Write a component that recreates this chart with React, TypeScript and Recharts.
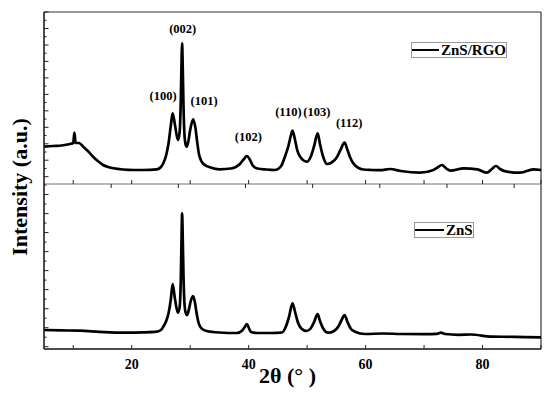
import React from 'react';
import { LineChart, Line, XAxis, YAxis, ReferenceDot, ReferenceLine, Legend } from 'recharts';

const SERIF = '"Liberation Serif", "Times New Roman", Times, serif';

// ZnS/RGO pattern (upper panel): 2θ (deg) and intensity (a.u.)
const rgoAngle = [5.0, 6.5, 8.0, 9.45, 10.0, 10.2, 10.4, 11.0, 11.7, 12.5, 13.4, 14.2, 15.1, 16.0, 16.9, 18.5, 20.3, 22.0, 24.3, 25.0, 25.4, 25.9, 26.3, 26.7, 27.0, 27.4, 27.9, 28.2, 28.4, 28.55, 28.62, 28.7, 28.85, 29.0, 29.2, 29.4, 29.7, 30.0, 30.5, 30.9, 31.2, 31.5, 31.9, 32.5, 33.5, 35.0, 37.0, 38.5, 39.2, 39.7, 40.2, 40.7, 41.5, 43.0, 44.5, 45.5, 46.2, 46.8, 47.2, 47.5, 47.9, 48.3, 48.8, 49.4, 49.95, 50.6, 51.2, 51.8, 52.2, 52.7, 53.4, 54.2, 55.0, 55.7, 56.4, 56.9, 57.4, 57.9, 59.6, 61.0, 62.5, 64.2, 66.0, 69.3, 71.6, 72.3, 73.05, 73.8, 74.5, 76.8, 79.1, 80.75, 81.6, 82.3, 83.0, 84.2, 86.45, 88.7, 90.0];
const rgoIntensity = [373, 380, 385, 400, 410, 513, 410, 410, 373, 330, 273, 230, 190, 170, 157, 145, 140, 140, 147, 170, 207, 290, 407, 590, 707, 590, 440, 520, 850, 1300, 1407, 1250, 800, 520, 400, 373, 430, 540, 647, 560, 420, 300, 230, 190, 165, 147, 155, 200, 250, 280, 245, 185, 155, 145, 140, 175, 273, 380, 480, 533, 450, 340, 273, 235, 223, 270, 380, 507, 400, 280, 200, 215, 260, 340, 413, 340, 260, 207, 145, 140, 138, 150, 130, 113, 140, 165, 190, 155, 133, 157, 147, 113, 150, 180, 150, 123, 113, 147, 140];

// ZnS pattern (lower panel)
const znsAngle = [5.0, 8.0, 11.2, 14.5, 18.6, 22.0, 24.3, 25.0, 25.4, 25.9, 26.3, 26.7, 27.0, 27.4, 27.9, 28.2, 28.4, 28.55, 28.62, 28.7, 28.85, 29.0, 29.2, 29.5, 29.8, 30.1, 30.5, 30.8, 31.1, 31.4, 31.7, 32.2, 32.8, 35.0, 38.0, 38.9, 39.4, 39.7, 40.0, 40.4, 41.5, 44.0, 45.7, 46.3, 46.9, 47.5, 47.9, 48.4, 49.0, 49.9, 50.6, 51.2, 51.8, 52.2, 52.8, 53.6, 54.6, 55.4, 55.9, 56.4, 56.9, 57.5, 58.2, 59.9, 63.0, 66.0, 70.0, 72.2, 72.9, 73.6, 75.9, 78.0, 81.6, 85.5, 90.0];
const znsIntensity = [190, 186, 183, 172, 163, 166, 173, 190, 223, 280, 357, 500, 650, 500, 363, 420, 700, 1200, 1357, 1200, 750, 480, 370, 340, 400, 480, 530, 470, 357, 270, 223, 195, 180, 165, 160, 185, 225, 250, 215, 170, 160, 160, 165, 215, 320, 457, 380, 270, 205, 180, 205, 270, 350, 280, 200, 163, 180, 230, 290, 340, 270, 200, 173, 150, 155, 150, 148, 152, 163, 150, 142, 145, 123, 122, 117];

// peak indexing labels (upper panel)
const peakNames = ['(100)', '(002)', '(101)', '(102)', '(110)', '(103)', '(112)'];
const peakLabelAngle = [25.36, 28.73, 32.38, 39.96, 46.8, 51.66, 57.19];
const peakLabelIntensity = [885, 1557, 835, 478, 728, 728, 612];

const angleTicks = [10, 20, 30, 40, 50, 60, 70, 80, 90];
const angleLabels = [20, 40, 60, 80];

const rgoTicks = [73, 155, 238, 320, 402, 485, 567, 649, 732, 814, 896, 979, 1061, 1143, 1226, 1308, 1390, 1473, 1555, 1637, 1720];
const rgoMajor = [73, 238, 402, 567, 732, 896, 1061, 1226, 1390, 1555, 1720];
const znsTicks = [23, 118, 213, 308, 403, 499, 594, 689, 784, 879, 974, 1069, 1164, 1259, 1354, 1450, 1545, 1640];
const znsMajor = [23, 213, 403, 594, 784, 974, 1164, 1354, 1545];

const rgoData = rgoAngle.map((a, i) => ({ angle: a, intensity: rgoIntensity[i] }));
const znsData = znsAngle.map((a, i) => ({ angle: a, intensity: znsIntensity[i] }));

const TICK_COLOR = '#222';

// inward left ticks, long for majors
const leftTick = (majors: number[]) => (p: any) => {
  const len = majors.includes(p.payload.value) ? 4.5 : 2.5;
  return <line x1={p.x} x2={p.x + len} y1={p.y} y2={p.y} stroke={TICK_COLOR} strokeWidth={1} />;
};

const upTick = (p: any) => <line x1={p.x} x2={p.x} y1={p.y} y2={p.y - 4} stroke={TICK_COLOR} strokeWidth={1} />;
const downTick = (p: any) => <line x1={p.x} x2={p.x} y1={p.y} y2={p.y + 4} stroke={TICK_COLOR} strokeWidth={1} />;

const bottomTick = (p: any) => (
  <g>
    <line x1={p.x} x2={p.x} y1={p.y} y2={p.y - 4} stroke={TICK_COLOR} strokeWidth={1} />
    {angleLabels.includes(p.payload.value) && (
      <text x={p.x} y={p.y + 20} textAnchor="middle" fontFamily={SERIF} fontWeight={700} fontSize={14} fill="#000">
        {p.payload.value}
      </text>
    )}
  </g>
);

function LegendBox({ name, lineWidth }: { name: string; lineWidth: number }) {
  return (
    <div style={{
      display: 'inline-flex', alignItems: 'center', border: '1px solid #9a9a9a', background: '#fff',
      height: 14, fontFamily: SERIF, fontWeight: 700, fontSize: 15, lineHeight: '14px', color: '#000', whiteSpace: 'nowrap'
    }}>
      <span style={{ display: 'inline-block', width: lineWidth, height: 2, background: '#000', marginRight: 2 }} />
      <span>{name}</span>
    </div>
  );
}

export default function App() {
  return (
    <div style={{ position: 'absolute', left: 0, top: 0, width: 550, height: 395, background: '#fff' }}>
      {/* upper panel: ZnS/RGO */}
      <div style={{ position: 'absolute', left: 0, top: 0 }}>
        <LineChart width={550} height={200} data={rgoData} margin={{ top: 12, right: 9, bottom: 16, left: 44 }}>
          <XAxis xAxisId="b" dataKey="angle" type="number" domain={[5, 90]} ticks={angleTicks} interval={0}
            orientation="bottom" mirror tickSize={0} tickMargin={0} tickLine={false} tick={upTick}
            axisLine={{ stroke: '#777', strokeWidth: 1.2 }} />
          <YAxis yAxisId="l" type="number" domain={[0, 1720]} ticks={rgoTicks} interval={0} mirror
            tickSize={0} tickMargin={0} tickLine={false} tick={leftTick(rgoMajor)}
            axisLine={{ stroke: '#111', strokeWidth: 1.5 }} />
          <ReferenceLine xAxisId="b" yAxisId="l" y={1720} stroke="#333" strokeWidth={1.2} />
          <ReferenceLine xAxisId="b" yAxisId="l" x={90} stroke="#333" strokeWidth={1.2} />
          <Line xAxisId="b" yAxisId="l" type="monotone" dataKey="intensity" stroke="#000" strokeWidth={2.7}
            dot={false} isAnimationActive={false} />
          {peakNames.map((name, i) => (
            <ReferenceDot key={name} xAxisId="b" yAxisId="l" x={peakLabelAngle[i]} y={peakLabelIntensity[i]}
              r={0} fill="none" stroke="none"
              label={{ value: name, position: 'center', fill: '#000', fontSize: 12.5, fontWeight: 700, fontFamily: SERIF }} />
          ))}
          <Legend layout="horizontal" verticalAlign="middle" align="center"
            wrapperStyle={{ top: 37, left: 411, width: 'auto' }}
            content={() => <LegendBox name="ZnS/RGO" lineWidth={27} />} />
        </LineChart>
      </div>

      {/* lower panel: ZnS */}
      <div style={{ position: 'absolute', left: 0, top: 170 }}>
        <LineChart width={550} height={225} data={znsData} margin={{ top: 14, right: 9, bottom: 0, left: 44 }}>
          <XAxis xAxisId="t" type="number" domain={[5, 90]} ticks={angleTicks} interval={0}
            orientation="top" mirror tickSize={0} tickMargin={0} tickLine={false} tick={downTick} axisLine={false} />
          <XAxis xAxisId="b" dataKey="angle" type="number" domain={[5, 90]} ticks={angleTicks} interval={0}
            orientation="bottom" height={46} tickSize={0} tickMargin={0} tickLine={false} tick={bottomTick}
            axisLine={{ stroke: '#111', strokeWidth: 1.5 }}
            label={{ value: '2θ (° )', position: 'insideBottom', offset: 12, dx: -5, fill: '#000', fontSize: 22, fontWeight: 700, fontFamily: SERIF }} />
          <YAxis yAxisId="l" type="number" domain={[0, 1650]} ticks={znsTicks} interval={0} mirror
            tickSize={0} tickMargin={0} tickLine={false} tick={leftTick(znsMajor)}
            axisLine={{ stroke: '#111', strokeWidth: 1.5 }} />
          <ReferenceLine xAxisId="b" yAxisId="l" x={90} stroke="#333" strokeWidth={1.2} />
          <Line xAxisId="b" yAxisId="l" type="monotone" dataKey="intensity" stroke="#000" strokeWidth={2.7}
            dot={false} isAnimationActive={false} />
          <Legend layout="horizontal" verticalAlign="middle" align="center"
            wrapperStyle={{ top: 47, left: 414, width: 'auto' }}
            content={() => <LegendBox name="ZnS" lineWidth={29} />} />
        </LineChart>
      </div>

      <div style={{
        position: 'absolute', left: -80, top: 175, width: 200, height: 24, lineHeight: '24px', textAlign: 'center',
        transform: 'rotate(-90deg)', fontFamily: SERIF, fontWeight: 700, fontSize: 22, color: '#000', whiteSpace: 'nowrap'
      }}>
        Intensity (a.u.)
      </div>
    </div>
  );
}
